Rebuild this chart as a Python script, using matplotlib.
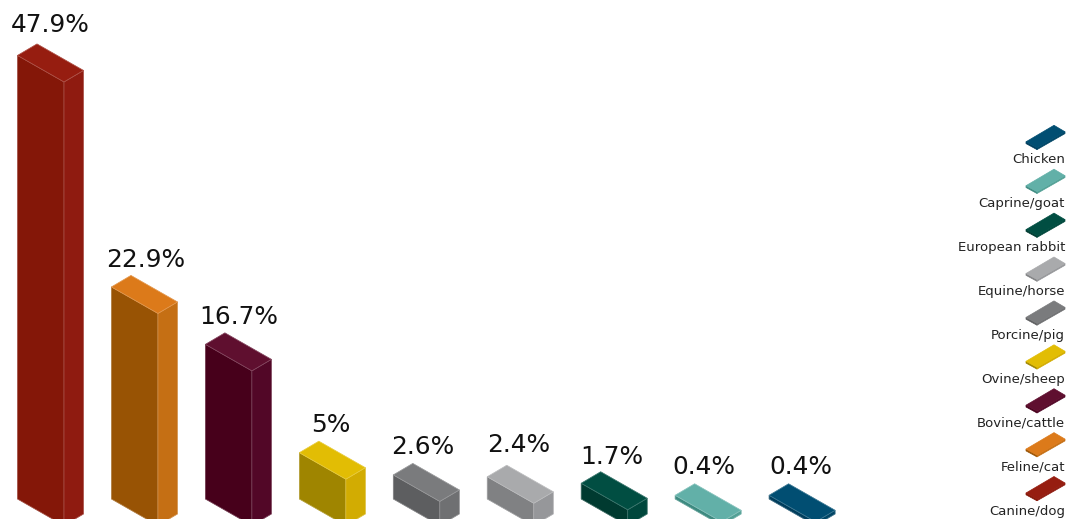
import matplotlib.pyplot as plt
from matplotlib.patches import Polygon

# Values
species = ['Canine/dog', 'Feline/cat', 'Bovine/cattle', 'Ovine/sheep', 'Porcine/pig',
           'Equine/horse', 'European rabbit', 'Caprine/goat', 'Chicken']
values = [47.9, 22.9, 16.7, 5, 2.6, 2.4, 1.7, 0.4, 0.4]
labels = ['47.9%', '22.9%', '16.7%', '5%', '2.6%', '2.4%', '1.7%', '0.4%', '0.4%']

top_colors = ['#961d10', '#dc7a1a', '#5f0f2f', '#e2bd04', '#7a7b7d', '#a9aaac', '#014e42', '#62b0a8', '#014e72']
right_colors = ['#8f1b10', '#c56f14', '#520727', '#d2ac02', '#6f7072', '#96979a', '#00473c', '#52a095', '#004565']
front_colors = ['#841708', '#985304', '#47001b', '#9f8500', '#5d5e60', '#808183', '#003a30', '#3d8a80', '#003d5c']

# Layout in pixels
first_x = 17.5
step_x = 93.95
base_y = 499
px_per_pct = 9.26
front_dx, front_dy = 46.5, 26.5
side_dx, side_dy = 19.5, 11.5
# the value labels sit a bit unevenly in the original
label_dx = [0, 1, 0, -2, -4, -2, -2, -4, -1]
label_dy = [-3, 1, 0, 0, 0, -4, 1, -1, -1]


def face(ax, pts, color, edge='#ffffff', alpha=0.25):
    ax.add_patch(Polygon(pts, closed=True, facecolor=color, edgecolor=color, linewidth=0.5))
    if alpha > 0:
        ax.add_patch(Polygon(pts, closed=True, facecolor='none', edgecolor=edge, linewidth=0.5, alpha=alpha))


fig = plt.figure(figsize=(10.8, 5.19), dpi=100)
ax = fig.add_axes([0, 0, 1, 1])
ax.set_xlim(0, 1080)
ax.set_ylim(519, 0)
ax.axis('off')

# Isometric bars
for i, v in enumerate(values):
    x = first_x + i * step_x
    top = base_y - v * px_per_pct
    fx, fy = x + front_dx, front_dy
    rx = fx + side_dx
    face(ax, [(x, base_y), (x, top), (fx, top + fy), (fx, base_y + fy)], front_colors[i])
    face(ax, [(fx, base_y + fy), (fx, top + fy), (rx, top + fy - side_dy), (rx, base_y + fy - side_dy)], right_colors[i])
    face(ax, [(x, top), (x + side_dx, top - side_dy), (rx, top + fy - side_dy), (fx, top + fy)], top_colors[i])
    ax.text(x + 33 + label_dx[i], top - side_dy - 9 + label_dy[i], labels[i],
            ha='center', va='baseline', fontsize=17.9, color='#111111')

# Legend, bottom entry is the first species
legend_right = 1065
legend_base = 510
legend_step = 43.9
for i, name in enumerate(species):
    y = legend_base - i * legend_step
    ax.text(legend_right, y + 4.5, name, ha='right', va='baseline', fontsize=9.55, color='#222222')
    # tile: left corner, back corner, right corner, front corner
    lx, ly = legend_right - 39, y - 17
    t = 1.8
    left = (lx, ly)
    back = (lx + 28, ly - 16.5)
    right = (lx + 39, ly - 10)
    front = (lx + 11, ly + 6)
    face(ax, [left, front, (front[0], front[1] + t), (left[0], left[1] + t)], front_colors[i], alpha=0)
    face(ax, [front, right, (right[0], right[1] + t), (front[0], front[1] + t)], right_colors[i], alpha=0)
    face(ax, [left, back, right, front], top_colors[i], alpha=0)

fig.savefig('out.png', dpi=100)
